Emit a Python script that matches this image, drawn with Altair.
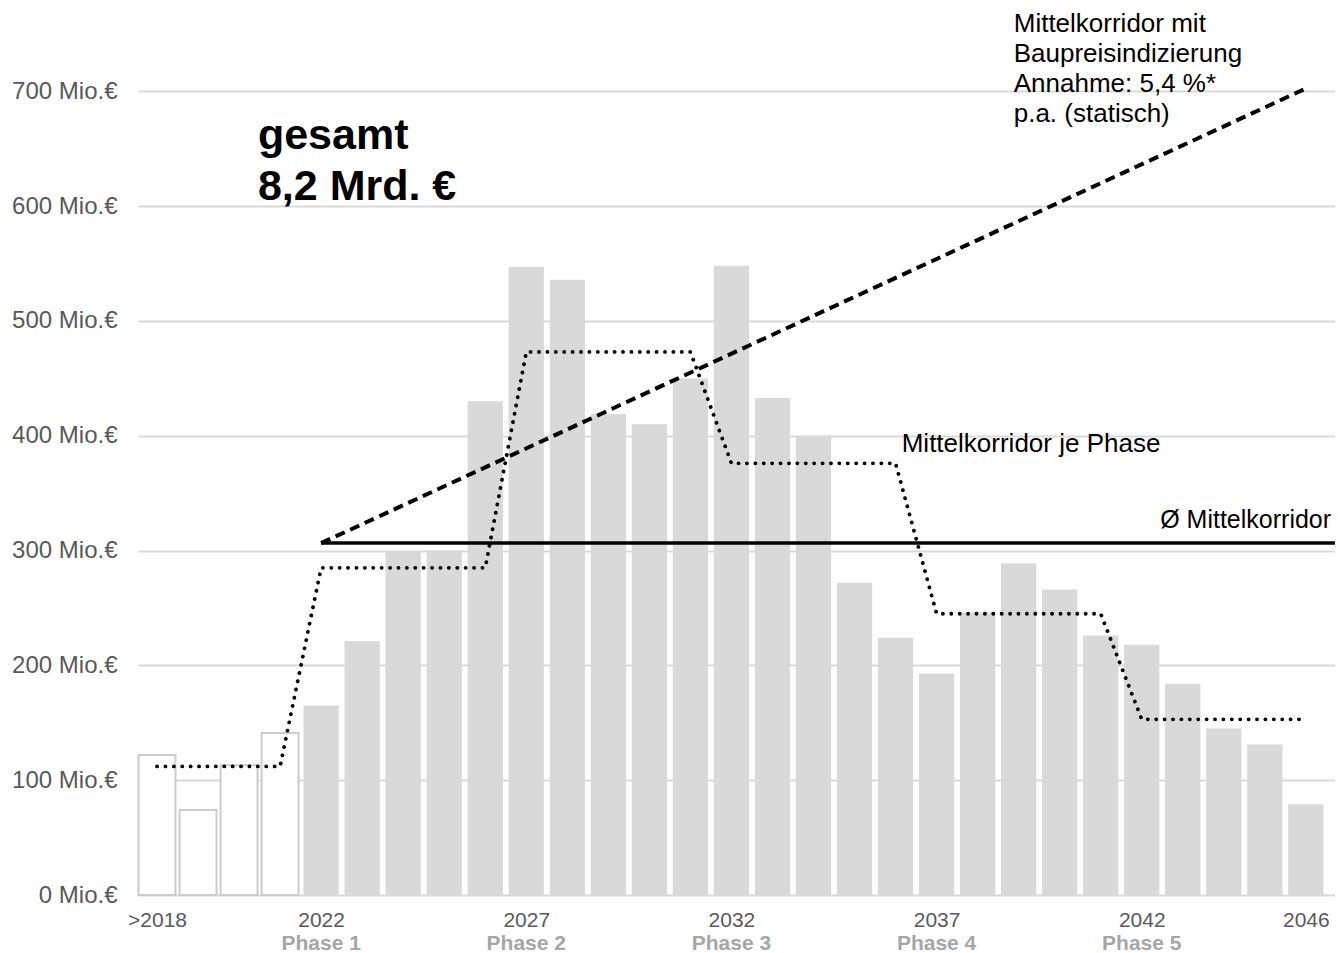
import altair as alt
import pandas as pd

# ---------------- data ----------------
categories = [">2018", "2019", "2020", "2021", "2022", "2023", "2024", "2025", "2026",
              "2027", "2028", "2029", "2030", "2031", "2032", "2033", "2034", "2035",
              "2036", "2037", "2038", "2039", "2040", "2041", "2042", "2043", "2044",
              "2045", "2046"]
values = [122, 74, 113, 141, 165, 221, 299, 300, 430,
          547, 536, 419, 410, 450, 548, 433, 400, 272,
          224, 193, 246, 289, 266, 226, 218, 184, 145,
          131, 79]
n_history = 4  # first bars shown as outlines

# Mittelkorridor je Phase (per category)
phase_corridor = [112, 112, 112, 112,
                  285, 285, 285, 285, 285,
                  473, 473, 473, 473, 473,
                  376, 376, 376, 376, 376,
                  245, 245, 245, 245, 245,
                  153, 153, 153, 153, 153]

avg_corridor = 306.5          # Ø Mittelkorridor
avg_start = "2022"
indexed_start = ("2022", 306.5)   # Mittelkorridor mit Baupreisindizierung
indexed_end = ("2046", 702.5)

tick_labels = [">2018", "2022", "2027", "2032", "2037", "2042", "2046"]
phase_labels = ["Phase 1", "Phase 2", "Phase 3", "Phase 4", "Phase 5"]
phase_at = ["2022", "2027", "2032", "2037", "2042"]
y_ticks = [0, 100, 200, 300, 400, 500, 600, 700]

# ---------------- tables ----------------
idx = {c: i for i, c in enumerate(categories)}
bars = pd.DataFrame({"idx": list(range(len(categories))), "cat": categories, "value": values})
bars["hist"] = bars["idx"] < n_history
corr = pd.DataFrame({"idx": list(range(len(categories))), "value": phase_corridor})
dash_df = pd.DataFrame({"idx": [idx[indexed_start[0]], idx[indexed_end[0]]],
                        "value": [indexed_start[1], indexed_end[1]]})
phase_df = pd.DataFrame({"idx": [idx[c] for c in phase_at], "label": phase_labels})
one = pd.DataFrame({"_": [0]})

W, H = 1197, 884
FONT = "Liberation Sans"
label_lookup = "[" + ",".join("'" + c + "'" for c in categories) + "][datum.value]"

xscale = alt.Scale(domain=[-0.463, 28.71], nice=False, zero=False)
yscale = alt.Scale(domain=[0, 770], nice=False)

x_axis = alt.Axis(values=[idx[c] for c in tick_labels], labelExpr=label_lookup,
                  labelFontSize=21, labelColor="#595959", labelPadding=14,
                  labelFlush=False, labelOverlap=False, domain=False, ticks=False,
                  grid=False, title=None)
y_axis = alt.Axis(values=y_ticks, labelExpr="datum.value + ' Mio.€'",
                  labelFontSize=24, labelColor="#595959", labelPadding=21,
                  domain=False, ticks=False, grid=True, gridColor="#d9d9d9",
                  gridWidth=2, title=None)

base = alt.Chart(bars)

hist_bars = base.transform_filter("datum.hist").transform_calculate(
    x0="datum.idx - 0.45", x1="datum.idx + 0.45"
).mark_bar(fill="white", stroke="#cbcbcb", strokeWidth=2).encode(
    x=alt.X("x0:Q", scale=xscale, axis=x_axis),
    x2="x1:Q",
    y=alt.Y("value:Q", scale=yscale, axis=y_axis),
    y2=alt.datum(0),
)

main_bars = base.transform_filter("!datum.hist").transform_calculate(
    x0="datum.idx - 0.43", x1="datum.idx + 0.43"
).mark_bar(color="#d9d9d9").encode(
    x=alt.X("x0:Q", scale=xscale, axis=x_axis),
    x2="x1:Q",
    y=alt.Y("value:Q", scale=yscale, axis=y_axis),
    y2=alt.datum(0),
)

dotted = alt.Chart(corr).mark_line(color="black", strokeWidth=3.8, strokeDash=[0.1, 8.3],
                                   strokeCap="round").encode(
    x=alt.X("idx:Q", scale=xscale, axis=x_axis), y=alt.Y("value:Q", scale=yscale, axis=y_axis))

dashed = alt.Chart(dash_df).mark_line(color="black", strokeWidth=4, strokeDash=[10, 6]).encode(
    x=alt.X("idx:Q", scale=xscale, axis=x_axis), y=alt.Y("value:Q", scale=yscale, axis=y_axis))

solid = alt.Chart(one).mark_rule(color="black", strokeWidth=3.5).encode(
    x=alt.datum(idx[avg_start], scale=xscale, axis=x_axis), x2=alt.value(W),
    y=alt.datum(avg_corridor, scale=yscale, axis=y_axis))

phase_text = alt.Chart(phase_df).mark_text(font=FONT, fontSize=21, fontWeight="bold",
                                           color="#a6a6a6", baseline="middle").encode(
    x=alt.X("idx:Q", scale=xscale, axis=x_axis), y=alt.value(H + 49), text="label:N")

def note(lines, xv, yv, size=26, weight="normal", lh=30):
    return alt.Chart(one).mark_text(text=lines, font=FONT, fontSize=size, fontWeight=weight,
                                    color="black", align="left", baseline="alphabetic",
                                    lineHeight=lh).encode(
        x=alt.datum(xv, scale=xscale, axis=x_axis), y=alt.datum(yv, scale=yscale, axis=y_axis))

notes = [
    note(["gesamt", "8,2 Mrd. €"], 2.46, 650, size=43, weight="bold", lh=51),
    note(["Mittelkorridor mit", "Baupreisindizierung", "Annahme: 5,4 %*", "p.a. (statisch)"],
         20.88, 752),
    note(["Mittelkorridor je Phase"], 18.15, 386),
    note(["Ø Mittelkorridor"], 24.45, 319.5, size=25),
]

chart = alt.layer(hist_bars, main_bars, dotted, dashed, solid, phase_text, *notes).properties(
    width=W, height=H,
    autosize=alt.AutoSizeParams(type="none"),
    padding={"left": 130, "top": 3, "right": 0, "bottom": 58},
).configure(font=FONT).configure_view(strokeWidth=0)

chart.save("out.html", embed_options={"renderer": "svg", "actions": False})
